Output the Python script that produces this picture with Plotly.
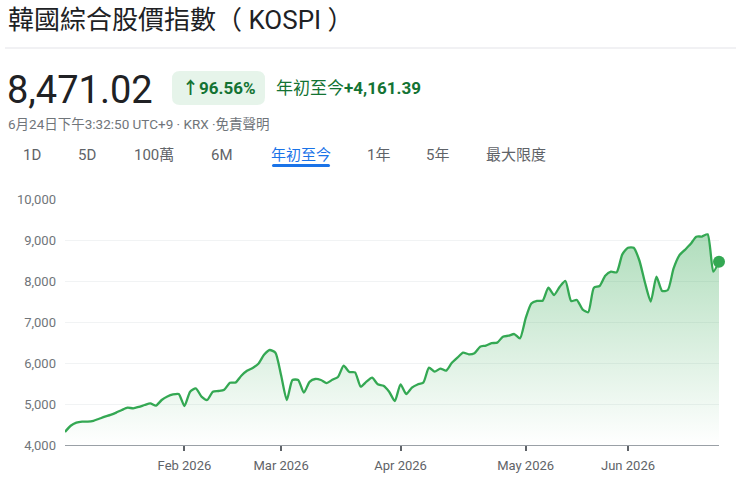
import pandas as pd
import plotly.graph_objects as go

# ---------------- data ----------------
holidays = ["2026-02-16", "2026-02-17", "2026-02-18", "2026-03-02",
            "2026-05-01", "2026-05-05", "2026-05-25", "2026-06-03"]
dates = [d.strftime("%Y-%m-%d") for d in pd.bdate_range("2026-01-02", "2026-06-24")
         if d.strftime("%Y-%m-%d") not in holidays]

values = [
    4320, 4470, 4545, 4570, 4570, 4590, 4640, 4690, 4735, 4790,
    4855, 4910, 4895, 4930, 4975, 5016, 4960, 5098, 5185, 5235,
    5244, 4951, 5300, 5383, 5180, 5098, 5300, 5317, 5350, 5520,
    5525, 5690, 5810, 5880, 5980, 6200, 6317, 6250, 5700, 5098,
    5585, 5585, 5276, 5540, 5610, 5585, 5510, 5590, 5660, 5935,
    5780, 5772, 5422, 5544, 5642, 5480, 5447, 5300, 5073, 5480,
    5244, 5398, 5475, 5520, 5886, 5788, 5865, 5813, 6000, 6130,
    6252, 6212, 6240, 6398, 6425, 6485, 6496, 6642, 6665, 6707,
    6602, 7090, 7450, 7515, 7520, 7837, 7659, 7861, 8000, 7512,
    7537, 7309, 7236, 7837, 7878, 8130, 8227, 8210, 8650, 8812,
    8812, 8500, 7950, 7500, 8105, 7756, 7780, 8300, 8620, 8760,
    8900, 9081, 9085, 9138, 8227, 8471.02,
]
n = min(len(dates), len(values))
dates, values = dates[:n], values[:n]

month_ticks = ["2026-02-02", "2026-03-03", "2026-04-01", "2026-05-04", "2026-06-01"]
month_labels = ["Feb 2026", "Mar 2026", "Apr 2026", "May 2026", "Jun 2026"]
y_ticks = [4000, 5000, 6000, 7000, 8000, 9000, 10000]

title_text = "韓國綜合股價指數（ KOSPI ）"
price_text = "8,471.02"
pct_text = "↑96.56%"
ytd_label = "年初至今"
ytd_change = "+4,161.39"
sub_text = "6月24日下午3:32:50 UTC+9 · KRX ·免責聲明"
tabs = ["1D", "5D", "100萬", "6M", "年初至今", "1年", "5年", "最大限度"]
tab_x = [32, 87, 154, 222, 301, 378, 437, 516]
selected_tab = "年初至今"

# ---------------- layout geometry ----------------
W, H = 736, 479
L, R, T, B = 65, 719, 199, 445
FONT = "Roboto, 'Noto Sans CJK TC', 'Noto Sans', sans-serif"
GREEN = "#34a853"
DKGREEN = "#137333"


def px(x):
    return (x - L) / (R - L)


def py(y):
    return (B - y) / (B - T)


fig = go.Figure()
fig.add_trace(go.Scatter(
    x=dates, y=values, mode="lines",
    line=dict(color=GREEN, width=2.3, shape="spline", smoothing=0.6),
    fill="tozeroy",
    fillgradient=dict(type="vertical", start=4000, stop=9300,
                      colorscale=[[0, "rgba(52,168,83,0.0)"], [1, "rgba(52,168,83,0.4)"]]),
    hoverinfo="skip", showlegend=False, cliponaxis=False,
))
fig.add_trace(go.Scatter(
    x=[dates[-1]], y=[values[-1]], mode="markers",
    marker=dict(color=GREEN, size=12), showlegend=False, cliponaxis=False,
))

annotations = [
    dict(text=title_text, x=px(6), y=py(20), font=dict(size=26, color="#202124")),
    dict(text=price_text, x=px(5), y=py(90), font=dict(size=38, color="#202124")),
    dict(text="<b>" + pct_text + "</b>", x=px(219), y=py(88), xanchor="center",
         font=dict(size=17, color=DKGREEN)),
    dict(text=ytd_label + "<b>" + ytd_change + "</b>", x=px(274), y=py(88),
         font=dict(size=17, color=DKGREEN)),
    dict(text=sub_text, x=px(6), y=py(124), font=dict(size=13.5, color="#70757a")),
]
for t, xc in zip(tabs, tab_x):
    annotations.append(dict(text=t, x=px(xc), y=py(155), xanchor="center",
                            font=dict(size=15, color="#1a73e8" if t == selected_tab else "#5f6368")))
for a in annotations:
    a.setdefault("xanchor", "left")
    a.update(xref="paper", yref="paper", yanchor="middle", showarrow=False)
    a["font"]["family"] = FONT


def rrect(x0, y0, x1, y1, r):
    X0, X1 = px(x0), px(x1)
    Y0, Y1 = py(y0), py(y1)
    rx = r / (R - L)
    ry = r / (B - T)
    return (f"M{X0+rx},{Y0} L{X1-rx},{Y0} Q{X1},{Y0} {X1},{Y0-ry} "
            f"L{X1},{Y1+ry} Q{X1},{Y1} {X1-rx},{Y1} L{X0+rx},{Y1} "
            f"Q{X0},{Y1} {X0},{Y1+ry} L{X0},{Y0-ry} Q{X0},{Y0} {X0+rx},{Y0} Z")


shapes = [
    dict(type="line", xref="paper", yref="paper", x0=px(5), x1=px(736), y0=py(48), y1=py(48),
         line=dict(color="#e3e3e8", width=1)),
    dict(type="path", xref="paper", yref="paper", path=rrect(172, 71, 265, 105, 8),
         fillcolor="#e6f4ea", line=dict(width=0), layer="below"),
    dict(type="path", xref="paper", yref="paper", path=rrect(272, 164, 330, 167, 1.5),
         fillcolor="#1a73e8", line=dict(width=0)),
]

fig.update_layout(
    width=W, height=H,
    margin=dict(l=L, r=W - R, t=T, b=H - B, pad=0, autoexpand=False),
    paper_bgcolor="white", plot_bgcolor="white",
    font=dict(family=FONT, size=13, color="#70757a"),
    annotations=annotations, shapes=shapes,
    showlegend=False,
)
fig.update_xaxes(
    type="category", range=[0, n - 1], automargin=False,
    tickmode="array", tickvals=month_ticks, ticktext=month_labels,
    ticks="outside", ticklen=5, tickwidth=1.5, tickcolor="#5f6368",
    showline=True, linecolor="#9aa0a6", linewidth=1,
    showgrid=False, zeroline=False, ticklabelstandoff=3,
    tickfont=dict(size=13, color="#5f6368"),
)
fig.update_yaxes(
    range=[4000, 10000], tickmode="array", tickvals=y_ticks, automargin=False,
    tickformat=",d", showgrid=True, gridcolor="#f1f3f4", gridwidth=1,
    zeroline=False, showline=False, ticks="", ticklabelstandoff=8,
    tickfont=dict(size=13, color="#70757a"),
)

fig.write_html("out.html")
